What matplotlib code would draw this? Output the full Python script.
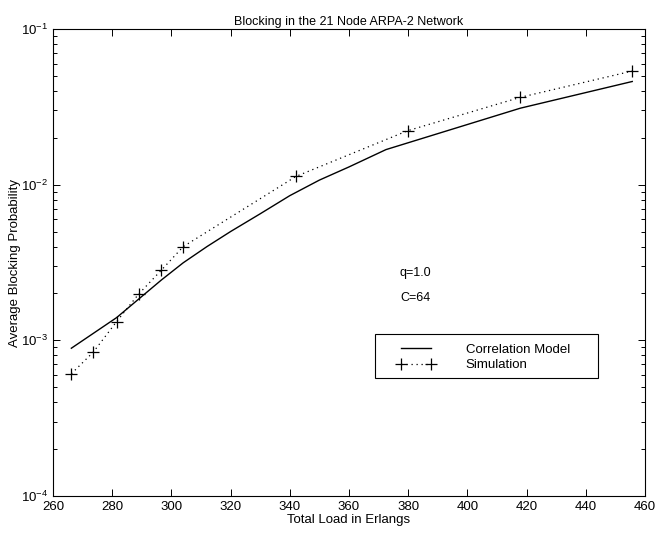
import matplotlib
matplotlib.use("Agg")
import matplotlib.pyplot as plt
from matplotlib.patches import Rectangle
from matplotlib.ticker import LogLocator, MultipleLocator

plt.rcParams['font.family'] = ['Liberation Sans', 'DejaVu Sans']

# Correlation model (solid line)
model_load = [266.2, 281.5, 296.6, 304.0, 312.0, 320.0, 330.0, 340.0, 350.0, 360.0,
              372.5, 417.9, 455.7]
model_block = [8.9e-4, 1.4e-3, 2.44e-3, 3.15e-3, 4.0e-3, 5.0e-3, 6.5e-3, 8.5e-3,
               1.07e-2, 1.3e-2, 1.68e-2, 3.1e-2, 4.6e-2]

# Simulation (dotted with + markers)
sim_load = [266.2, 273.6, 281.5, 288.9, 296.5, 304.0, 342.1, 379.8, 417.9, 455.7]
sim_block = [6.1e-4, 8.4e-4, 1.32e-3, 1.98e-3, 2.81e-3, 4.0e-3, 1.13e-2, 2.22e-2,
             3.64e-2, 5.37e-2]

fig = plt.figure(figsize=(6.56, 5.33), dpi=100)
ax = fig.add_axes([0.0808, 0.0694, 0.9024, 0.8762])

ax.semilogy(model_load, model_block, color='black', linewidth=1.0,
            label='Correlation Model')
ax.semilogy(sim_load, sim_block, color='black', linewidth=0.9,
            linestyle=(0, (1, 3)), marker='+', markersize=8,
            markeredgewidth=0.9, label='Simulation')

ax.set_xlim(260, 460)
ax.set_ylim(1e-4, 1e-1)
ax.xaxis.set_major_locator(MultipleLocator(20))
ax.yaxis.set_major_locator(LogLocator(base=10))
ax.yaxis.set_minor_locator(LogLocator(base=10, subs=range(2, 10)))

ax.tick_params(which='both', direction='in', top=True, right=True,
               labelsize=9.5, width=0.7)
ax.tick_params(which='major', length=5)
ax.tick_params(which='minor', length=3)
for s in ax.spines.values():
    s.set_linewidth(0.8)

ax.set_title('Blocking in the 21 Node ARPA-2 Network', fontsize=9, pad=3)
ax.set_xlabel('Total Load in Erlangs', fontsize=9.5, labelpad=1)
ax.set_ylabel('Average Blocking Probability', fontsize=9.5, labelpad=0)

ax.text(0.586, 0.4775, 'q=1.0', transform=ax.transAxes, fontsize=9,
        va='center', ha='left')
ax.text(0.586, 0.424, 'C=64', transform=ax.transAxes, fontsize=9,
        va='center', ha='left')

# legend box drawn separately, entries placed inside it
ax.add_patch(Rectangle((0.544, 0.253), 0.377, 0.094, transform=ax.transAxes,
                       fill=False, edgecolor='black', linewidth=0.8, zorder=5))
ax.legend(loc='center left', bbox_to_anchor=(0.581, 0.2966), fontsize=9.5,
          handlelength=2.9, handletextpad=2.3, borderpad=0, labelspacing=0.25,
          numpoints=2, frameon=False, borderaxespad=0)

fig.savefig('out.png', dpi=100)
